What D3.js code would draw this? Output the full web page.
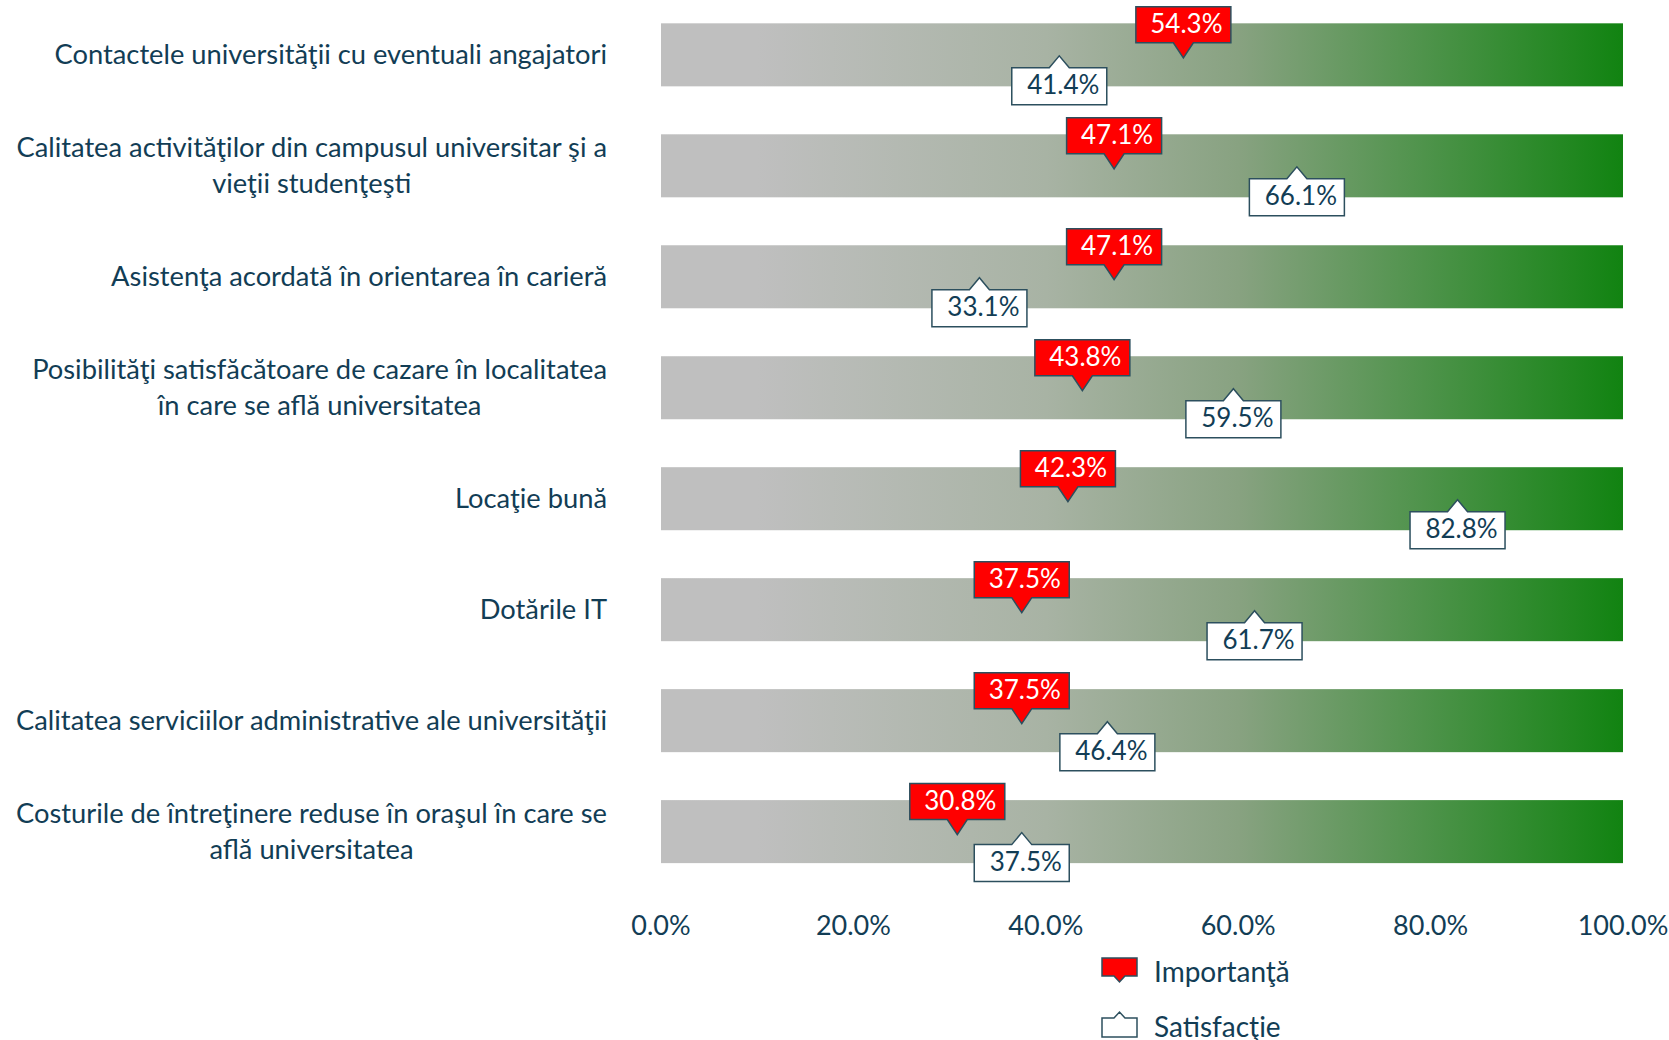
<!DOCTYPE html>
<html>
<head>
<meta charset="utf-8">
<script src="https://cdn.jsdelivr.net/npm/d3@7"></script>
<style>
  body { margin: 0; background: #fff; }
  svg text { font-family: Lato, "Open Sans", sans-serif; }
</style>
</head>
<body>
<svg id="chart" width="1669" height="1040"></svg>
<script>
var categories = [
  ["Contactele universităţii cu eventuali angajatori"],
  ["Calitatea activităţilor din campusul universitar şi a", "vieţii studenţeşti"],
  ["Asistenţa acordată în orientarea în carieră"],
  ["Posibilităţi satisfăcătoare de cazare în localitatea", "în care se află universitatea"],
  ["Locaţie bună"],
  ["Dotările IT"],
  ["Calitatea serviciilor administrative ale universităţii"],
  ["Costurile de întreţinere reduse în oraşul în care se", "află universitatea"]
];
var importanta = [54.3, 47.1, 47.1, 43.8, 42.3, 37.5, 37.5, 30.8];
var satisfactie = [41.4, 66.1, 33.1, 59.5, 82.8, 61.7, 46.4, 37.5];
var ticks = [0, 20, 40, 60, 80, 100];
var legendNames = ["Importanţă", "Satisfacţie"];

var textColor = "#123d55";
var edge = "#2c4f5e";

var svg = d3.select("#chart");

var x = d3.scaleLinear().domain([0, 100]).range([661, 1623]);
var y = d3.scaleBand()
  .domain(d3.range(categories.length))
  .range([-0.65, 887.1])
  .paddingInner(0.432)
  .paddingOuter(0.216);

var defs = svg.append("defs");
var grad = defs.append("linearGradient")
  .attr("id", "barGrad")
  .attr("gradientUnits", "userSpaceOnUse")
  .attr("x1", x(0)).attr("x2", x(100))
  .attr("y1", 0).attr("y2", 0);
grad.append("stop").attr("offset", "0").attr("stop-color", "#bfbfbf");
grad.append("stop").attr("offset", "0.1").attr("stop-color", "#bfbfbf");
grad.append("stop").attr("offset", "0.4").attr("stop-color", "#a8b3a4");
grad.append("stop").attr("offset", "0.6").attr("stop-color", "#88a281");
grad.append("stop").attr("offset", "1").attr("stop-color", "#118311");

// background bars (0-100%)
svg.append("g").selectAll("rect")
  .data(categories)
  .enter()
  .append("rect")
  .attr("x", x(0))
  .attr("y", function(d, i){ return y(i); })
  .attr("width", x(100) - x(0))
  .attr("height", y.bandwidth())
  .attr("fill", "url(#barGrad)");

// category labels, block right aligned, lines centred
var labelRight = 607;
var labels = svg.append("g").selectAll("text")
  .data(categories)
  .enter()
  .append("text")
  .attr("font-size", 27.3)
  .attr("fill", textColor)
  .attr("text-anchor", "middle");
labels.each(function(d, i){
  var t = d3.select(this);
  var c = y(i) + y.bandwidth() / 2;
  var spans = t.selectAll("tspan").data(d).enter().append("tspan")
    .text(function(s){ return s; })
    .attr("y", function(s, j){ return c + 9 + (j - (d.length - 1) / 2) * 36; });
  var w = 0;
  spans.each(function(){ w = Math.max(w, this.getComputedTextLength()); });
  spans.attr("x", labelRight - w / 2);
});

// x axis tick labels
svg.append("g").selectAll("text")
  .data(ticks)
  .enter()
  .append("text")
  .attr("x", function(d){ return x(d); })
  .attr("y", 935)
  .attr("text-anchor", "middle")
  .attr("font-size", 27)
  .attr("fill", textColor)
  .text(function(d){ return d.toFixed(1) + "%"; });

var bw = 95, ph = 10;

function downCallout(px, c){
  // box above, pointer down
  var top = c - 48, bot = c - 12, tip = c + 3;
  return "M" + (px - bw/2) + "," + top + "H" + (px + bw/2) + "V" + bot +
    "H" + (px + ph) + "L" + px + "," + tip + "L" + (px - ph) + "," + bot +
    "H" + (px - bw/2) + "Z";
}
function upCallout(px, c){
  var tip = c + 1, top = c + 13, bot = c + 50;
  return "M" + (px - bw/2) + "," + top + "H" + (px - ph) + "L" + px + "," + tip +
    "L" + (px + ph) + "," + top + "H" + (px + bw/2) + "V" + bot +
    "H" + (px - bw/2) + "Z";
}

// satisfaction callouts
var sat = svg.append("g").selectAll("g")
  .data(satisfactie)
  .enter()
  .append("g");
sat.append("path")
  .attr("d", function(d, i){ return upCallout(x(d), y(i) + y.bandwidth()/2); })
  .attr("fill", "#fff")
  .attr("stroke", edge)
  .attr("stroke-width", 1.5);
sat.append("text")
  .attr("x", function(d){ return x(d) + 4; })
  .attr("y", function(d, i){ return y(i) + y.bandwidth()/2 + 39; })
  .attr("text-anchor", "middle")
  .attr("font-size", 26)
  .attr("fill", textColor)
  .text(function(d){ return d.toFixed(1) + "%"; });

// importance callouts
var imp = svg.append("g").selectAll("g")
  .data(importanta)
  .enter()
  .append("g");
imp.append("path")
  .attr("d", function(d, i){ return downCallout(x(d), y(i) + y.bandwidth()/2); })
  .attr("fill", "#ff0000")
  .attr("stroke", edge)
  .attr("stroke-width", 1.5);
imp.append("text")
  .attr("x", function(d){ return x(d) + 3; })
  .attr("y", function(d, i){ return y(i) + y.bandwidth()/2 - 21.5; })
  .attr("text-anchor", "middle")
  .attr("font-size", 26)
  .attr("fill", "#fff")
  .text(function(d){ return d.toFixed(1) + "%"; });

// legend
var lg = svg.append("g");
lg.append("path")
  .attr("d", "M1102,958H1137V976H1125L1119.5,982L1114,976H1102Z")
  .attr("fill", "#ff0000")
  .attr("stroke", edge)
  .attr("stroke-width", 1.5);
lg.append("path")
  .attr("d", "M1102,1018H1114L1119.5,1012L1125,1018H1137V1037H1102Z")
  .attr("fill", "#fff")
  .attr("stroke", edge)
  .attr("stroke-width", 1.5);
lg.selectAll("text")
  .data(legendNames)
  .enter()
  .append("text")
  .attr("x", 1154)
  .attr("y", function(d, i){ return 982 + i * 55; })
  .attr("font-size", 28)
  .attr("fill", textColor)
  .text(function(d){ return d; });
</script>
</body>
</html>
